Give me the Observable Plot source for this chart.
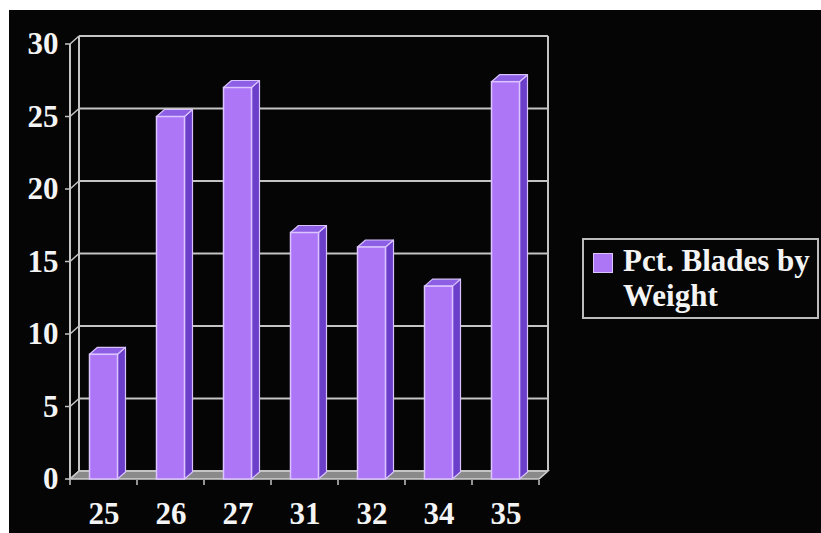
<!DOCTYPE html>
<html>
<head>
<meta charset="utf-8">
<script src="https://cdn.jsdelivr.net/npm/d3@7"></script>
<script src="https://cdn.jsdelivr.net/npm/@observablehq/plot@0.6"></script>
<style>
  html, body { margin: 0; padding: 0; background: #ffffff; width: 821px; height: 533px; overflow: hidden; }
  #panel { position: absolute; left: 9px; top: 10px; width: 812px; height: 523px; background: #050505; }
  #legend { position: absolute; left: 573px; top: 228px; width: 233px; height: 77px; border: 2px solid #bcbcbc;
            font-family: "Liberation Serif", "Times New Roman", serif; font-weight: bold; font-size: 31px; color: #f4f4f4; }
  #legend .sw { position: absolute; left: 9px; top: 13px; width: 18px; height: 18px; background: #ad76f7; border: 1.5px solid #dcc4ff; }
  #legend .txt { position: absolute; left: 39px; top: 3px; line-height: 35px; white-space: nowrap; }
</style>
</head>
<body>
<div id="panel"></div>
<script>
// ---- data ----
const categories = ["25", "26", "27", "31", "32", "34", "35"];
const values = [8.6, 25, 27, 17, 16, 13.3, 27.4];
const yTicks = [0, 5, 10, 15, 20, 25, 30];
const seriesName = "Pct. Blades by Weight";

const data = categories.map((c, i) => ({cat: c, val: values[i]}));

// ---- 3D geometry (pixels) ----
const WALL = {dx: 9, dy: -8};
const BAR = {dx: 8, dy: -7};
const INSET = 19.5;
const GRID = "#c4c4c4";

function walls(index, scales, vals, dims) {
  const {x, y} = scales;
  const g = d3.create("svg:g").attr("fill", "none");
  const left = dims.marginLeft, right = dims.width - dims.marginRight;
  const y0 = y(0), yTop = y(d3.max(yTicks));
  // floor
  g.append("path")
    .attr("d", `M${left},${y0}L${right},${y0}L${right + WALL.dx},${y0 + WALL.dy}L${left + WALL.dx},${y0 + WALL.dy}Z`)
    .attr("fill", "#8a8a8a").attr("stroke", "#d0d0d0").attr("stroke-width", 1.5);
  // back-wall gridlines + side-wall lines + front tick stubs
  for (const t of yTicks) {
    const yy = y(t);
    g.append("line").attr("x1", left + WALL.dx).attr("x2", right + WALL.dx)
      .attr("y1", yy + WALL.dy).attr("y2", yy + WALL.dy)
      .attr("stroke", GRID).attr("stroke-width", 2);
    g.append("path")
      .attr("d", `M${left - 5},${yy}L${left},${yy}L${left + WALL.dx},${yy + WALL.dy}`)
      .attr("stroke", GRID).attr("stroke-width", 1.5);
  }
  // wall edges
  g.append("line").attr("x1", left).attr("x2", left).attr("y1", y0).attr("y2", yTop)
    .attr("stroke", GRID).attr("stroke-width", 2);
  g.append("line").attr("x1", left + WALL.dx).attr("x2", left + WALL.dx)
    .attr("y1", y0 + WALL.dy).attr("y2", yTop + WALL.dy).attr("stroke", GRID).attr("stroke-width", 2);
  g.append("line").attr("x1", right + WALL.dx).attr("x2", right + WALL.dx)
    .attr("y1", y0 + WALL.dy).attr("y2", yTop + WALL.dy).attr("stroke", GRID).attr("stroke-width", 2);
  // x ticks at category boundaries
  const step = x.step ? x.step() : (right - left) / categories.length;
  for (let i = 0; i <= categories.length; i++) {
    const xx = i < categories.length ? x(categories[i]) : x(categories[i - 1]) + step;
    g.append("line").attr("x1", xx).attr("x2", xx).attr("y1", y0 + 1).attr("y2", y0 + 6)
      .attr("stroke", GRID).attr("stroke-width", 1.5);
  }
  return g.node();
}

function barSides(index, scales, vals, dims) {
  const {x, y} = scales;
  const bw = x.bandwidth();
  const g = d3.create("svg:g").attr("stroke", "#d9c2ff").attr("stroke-width", 1.2).attr("stroke-linejoin", "round");
  for (const d of data) {
    const x0 = x(d.cat) + INSET, x1 = x(d.cat) + bw - INSET;
    const yt = y(d.val), yb = y(0);
    g.append("path")
      .attr("d", `M${x1},${yb}L${x1 + BAR.dx},${yb + BAR.dy}L${x1 + BAR.dx},${yt + BAR.dy}L${x1},${yt}Z`)
      .attr("fill", "#6b3fca");
    g.append("path")
      .attr("d", `M${x0},${yt}L${x0 + BAR.dx},${yt + BAR.dy}L${x1 + BAR.dx},${yt + BAR.dy}L${x1},${yt}Z`)
      .attr("fill", "#8c5fe4");
  }
  return g.node();
}

const chart = Plot.plot({
  width: 812,
  height: 523,
  marginLeft: 61,
  marginRight: 282,
  marginTop: 34,
  marginBottom: 54,
  style: {
    background: "transparent",
    color: "#f4f4f4",
    fontFamily: "'Liberation Serif', 'Times New Roman', serif",
    fontWeight: "bold",
    fontSize: "31px"
  },
  x: {domain: categories, padding: 0, label: null},
  y: {domain: [0, 30], label: null},
  marks: [
    walls,
    barSides,
    Plot.barY(data, {x: "cat", y: "val", fill: "#ad76f7", stroke: "#dcc4ff", strokeWidth: 1.5,
                     insetLeft: INSET, insetRight: INSET}),
    Plot.axisY({ticks: yTicks, tickSize: 0, tickPadding: 12, label: null}),
    Plot.axisX({tickSize: 0, tickPadding: 22, label: null})
  ]
});
chart.style.position = "absolute";
chart.style.left = "0px";
chart.style.top = "0px";
const panel = document.getElementById("panel");
panel.appendChild(chart);

const legend = document.createElement("div");
legend.id = "legend";
const words = seriesName.split(" ");
legend.innerHTML = `<span class="sw"></span><div class="txt">${words.slice(0, 3).join(" ")}<br>${words.slice(3).join(" ")}</div>`;
panel.appendChild(legend);
</script>
</body>
</html>
